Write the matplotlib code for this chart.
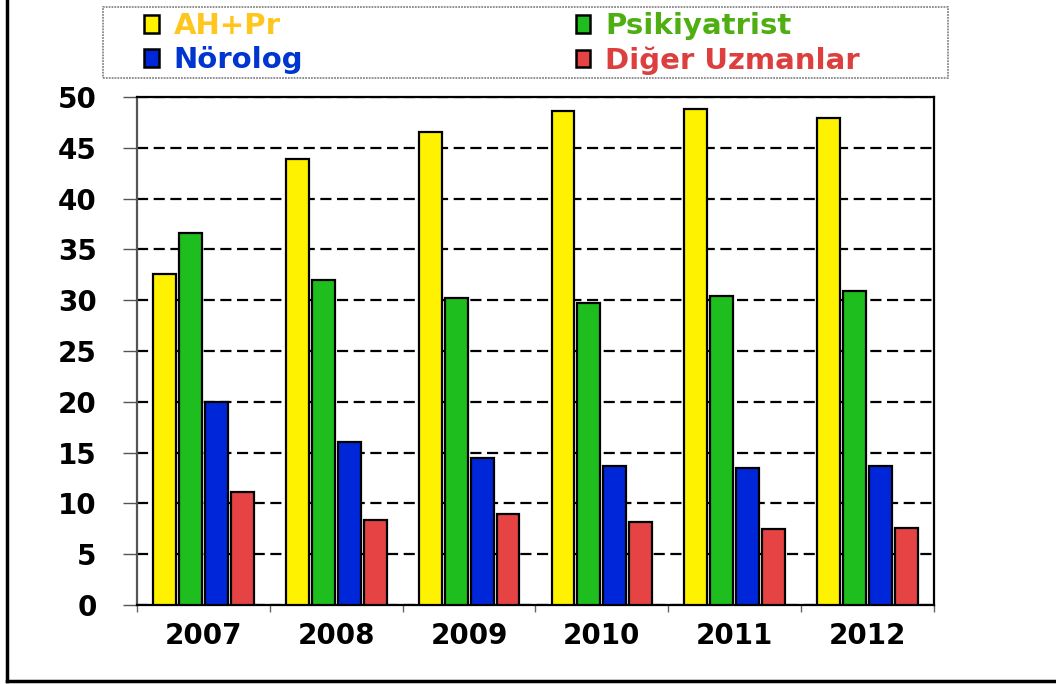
import matplotlib.pyplot as plt
from matplotlib.patches import Patch, Rectangle
from matplotlib.lines import Line2D
import numpy as np

# data
years = ["2007", "2008", "2009", "2010", "2011", "2012"]
series = ["AH+Pr", "Psikiyatrist", "Nörolog", "Diğer Uzmanlar"]
ah_pr = [32.6, 43.9, 46.6, 48.6, 48.8, 47.9]
psikiyatrist = [36.6, 32.0, 30.2, 29.7, 30.4, 30.9]
norolog = [20.0, 16.0, 14.5, 13.7, 13.5, 13.7]
diger = [11.1, 8.4, 9.0, 8.2, 7.5, 7.6]
values = [ah_pr, psikiyatrist, norolog, diger]

bar_colors = ["#FFF200", "#1FBE1F", "#0026D9", "#E64444"]
text_colors = ["#FFC61E", "#4FAE12", "#0035D0", "#DD3E3E"]

plt.rcParams["font.family"] = "DejaVu Sans"
fig = plt.figure(figsize=(10.56, 6.84), dpi=100)
ax = fig.add_axes([0.1297, 0.1155, 0.7548, 0.7427])

x = np.arange(len(years)) + 0.5
offsets = [-0.293, -0.098, 0.098, 0.293]
w = 0.173
for vals, off, c in zip(values, offsets, bar_colors):
    ax.bar(x + off, vals, width=w, color=c, edgecolor="black", linewidth=1.6, zorder=3)

ax.set_xlim(0, len(years))
ax.set_ylim(0, 50)
ax.set_yticks(range(0, 51, 5))
ax.set_yticklabels([str(v) for v in range(0, 51, 5)], fontsize=20, fontweight="heavy")
ax.set_xticks(np.arange(len(years) + 1), minor=False)
ax.set_xticklabels([])
ax.set_xticks(x, minor=True)
ax.set_xticklabels(years, minor=True, fontsize=20, fontweight="heavy")
ax.tick_params(axis="x", which="minor", length=0, pad=12)
ax.tick_params(axis="x", which="major", length=5, width=1, color="#666666")
ax.tick_params(axis="y", length=10, width=1, color="#555555", pad=19)
ax.yaxis.grid(True, linestyle=(0, (5, 2.5)), color="black", linewidth=1.6, zorder=0)
for s in ax.spines.values():
    s.set_linewidth(1.6)
ax.spines["left"].set_color("#555555")

# legend frame drawn separately
fig.add_artist(Rectangle((103 / 1056, 1 - 78 / 684), 845 / 1056, 71 / 684,
                         transform=fig.transFigure, fill=False, edgecolor="#888888",
                         linewidth=1.3, linestyle=(0, (1, 0.6))))
handles = [Patch(facecolor=c, edgecolor="black", linewidth=1.8) for c in bar_colors]
order = [0, 2, 1, 3]
leg = fig.legend([handles[i] for i in order], [series[i] for i in order],
                 ncol=2, loc="upper left", bbox_to_anchor=(140 / 1056, 1 - 8 / 684),
                 prop={"weight": "bold", "size": 21},
                 handlelength=0.5, handleheight=0.55, handletextpad=0.5,
                 borderaxespad=0, borderpad=0.15, labelspacing=0.2,
                 columnspacing=9.35, frameon=False)
for t, i in zip(leg.get_texts(), order):
    t.set_color(text_colors[i])

# outer frame (left and bottom)
fig.add_artist(Line2D([7 / 1056, 7 / 1056], [1, 1 - 681 / 684], color="black", linewidth=2.5))
fig.add_artist(Line2D([7 / 1056, 1], [1 - 681 / 684, 1 - 681 / 684], color="black", linewidth=2.5))

fig.savefig("out.png", dpi=100)
